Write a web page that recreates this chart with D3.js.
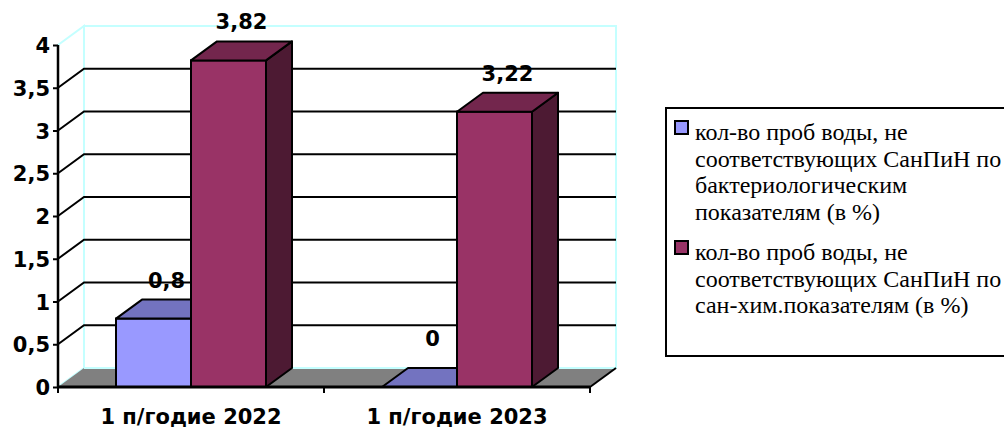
<!DOCTYPE html>
<html lang="ru">
<head>
<meta charset="utf-8">
<title>Пробы воды</title>
<script src="https://cdn.jsdelivr.net/npm/d3@7"></script>
<style>
  body { margin: 0; background: #fff; }
  svg { display: block; }
  .lbl { font-family: "DejaVu Sans", sans-serif; font-weight: bold; font-size: 21px; fill: #000; }
  .leg { font-family: "Times New Roman", Tinos, "Liberation Serif", "Noto Serif", "DejaVu Serif", serif; font-size: 24px; fill: #000; }
</style>
</head>
<body>
<svg id="chart" width="1004" height="432"></svg>
<script>
// data
var categories = ["1 п/годие 2022", "1 п/годие 2023"];
var seriesNames = ["bact", "chem"];
var bactValues = [0.8, 0];
var chemValues = [3.82, 3.22];
var yTicks = [0, 0.5, 1, 1.5, 2, 2.5, 3, 3.5, 4];
var legendLines = [
  ["кол-во проб воды, не", "соответствующих СанПиН по", "бактериологическим", "показателям (в %)"],
  ["кол-во проб воды, не", "соответствующих СанПиН по", "сан-хим.показателям (в %)"]
];

// colours: front, top, side
var colors = {
  bact: ["#9999ff", "#7373c0", "#5c5c99"],
  chem: ["#993366", "#73264d", "#4d1a33"]
};

var svg = d3.select("#chart");
var dx = 26, dy = -19;   // depth offset
var left = 58, right = 590;

var y = d3.scaleLinear().domain([0, 4]).range([387, 45]);
var x0 = d3.scaleBand().domain(categories).range([left, right]);
var gap = 58;
var x1 = d3.scaleBand().domain(seriesNames).range([gap, x0.bandwidth() - gap]);

function pts(a) { return a.map(function(p) { return p.join(","); }).join(" "); }

var y0 = y(0), yTop = y(4);

// back wall + side wall
svg.append("polygon")
  .attr("points", pts([[left + dx, yTop + dy], [right + dx, yTop + dy], [right + dx, y0 + dy], [left + dx, y0 + dy]]))
  .attr("fill", "#fff").attr("stroke", "#c4ffff").attr("stroke-width", 2);
svg.append("polygon")
  .attr("points", pts([[left, yTop], [left + dx, yTop + dy], [left + dx, y0 + dy], [left, y0]]))
  .attr("fill", "#fff").attr("stroke", "#c4ffff").attr("stroke-width", 2);

// gridlines
var grid = yTicks.filter(function(t) { return t > 0 && t < 4; });
grid.forEach(function(t) {
  svg.append("polyline")
    .attr("points", pts([[left, y(t)], [left + dx, y(t) + dy], [right + dx, y(t) + dy]]))
    .attr("fill", "none").attr("stroke", "#000").attr("stroke-width", 2);
});

// floor
svg.append("polygon")
  .attr("points", pts([[left, y0], [right, y0], [right + dx, y0 + dy], [left + dx, y0 + dy]]))
  .attr("fill", "#808080").attr("stroke", "none");
svg.append("line")
  .attr("x1", left + dx).attr("y1", y0 + dy).attr("x2", right + dx).attr("y2", y0 + dy)
  .attr("stroke", "#c4ffff").attr("stroke-width", 2);
svg.append("polyline")
  .attr("points", pts([[right, y0], [right + dx, y0 + dy]]))
  .attr("fill", "none").attr("stroke", "#000").attr("stroke-width", 2);

// bars
var bars = [];
categories.forEach(function(c, i) {
  bars.push({ cat: c, s: "bact", v: bactValues[i] });
  bars.push({ cat: c, s: "chem", v: chemValues[i] });
});

bars.forEach(function(d) {
  var xa = x0(d.cat) + x1(d.s), xb = xa + x1.bandwidth();
  var yt = y(d.v);
  var g = svg.append("g");
  var col = colors[d.s];
  if (d.v > 0) {
    g.append("polygon")
      .attr("points", pts([[xb, yt], [xb + dx, yt + dy], [xb + dx, y0 + dy], [xb, y0]]))
      .attr("fill", col[2]).attr("stroke", "#000").attr("stroke-width", 2).attr("stroke-linejoin", "round");
    g.append("rect")
      .attr("x", xa).attr("y", yt).attr("width", xb - xa).attr("height", y0 - yt)
      .attr("fill", col[0]).attr("stroke", "#000").attr("stroke-width", 2);
  }
  g.append("polygon")
    .attr("points", pts([[xa, yt], [xa + dx, yt + dy], [xb + dx, yt + dy], [xb, yt]]))
    .attr("fill", col[1]).attr("stroke", "#000").attr("stroke-width", 2).attr("stroke-linejoin", "round");

  var ly = d.v > 0 ? yt + dy - 12 : yt + dy - 22;
  svg.append("text").attr("class", "lbl")
    .attr("x", (xa + xb) / 2 + dx / 2).attr("y", ly)
    .attr("text-anchor", "middle")
    .text(String(d.v).replace(".", ","));
});

// axes
var fmt = function(d) { return String(d).replace(".", ","); };
var yAxis = svg.append("g").attr("transform", "translate(" + left + ",0)")
  .call(d3.axisLeft(y).tickValues(yTicks).tickFormat(fmt).tickSize(5).tickPadding(3));
yAxis.select(".domain").attr("stroke", "#000").attr("stroke-width", 2.5).attr("d", "M0," + yTop + "V" + y0);
yAxis.selectAll(".tick line").attr("stroke", "#000").attr("stroke-width", 2);
yAxis.selectAll(".tick text").attr("class", "lbl").attr("font-size", null).attr("font-family", null).attr("dy", "0.36em");

var xAxis = svg.append("g").attr("transform", "translate(0," + y0 + ")")
  .call(d3.axisBottom(x0).tickSize(0).tickPadding(22));
xAxis.select(".domain").attr("stroke", "#000").attr("stroke-width", 3).attr("d", "M" + left + ",0H" + right);
xAxis.selectAll(".tick text").attr("class", "lbl").attr("font-size", null).attr("font-family", null).attr("dy", "0.72em");
// category separators
[left, right].concat(categories.slice(1).map(function(c) { return x0(c); })).forEach(function(xx) {
  xAxis.append("line").attr("x1", xx).attr("x2", xx).attr("y1", 0).attr("y2", 6)
    .attr("stroke", "#000").attr("stroke-width", 2);
});

// legend
var lg = svg.append("g");
lg.append("rect").attr("x", 666).attr("y", 108).attr("width", 345).attr("height", 248)
  .attr("fill", "#fff").attr("stroke", "#000").attr("stroke-width", 2);
var lineH = 26.6;
var starts = [140, 260];
seriesNames.forEach(function(s, i) {
  lg.append("rect").attr("x", 675).attr("y", starts[i] - 19).attr("width", 13).attr("height", 13)
    .attr("fill", colors[s][0]).attr("stroke", "#000").attr("stroke-width", 2);
  legendLines[i].forEach(function(t, j) {
    lg.append("text").attr("class", "leg")
      .attr("x", 695).attr("y", starts[i] + j * lineH).text(t);
  });
});
</script>
</body>
</html>
